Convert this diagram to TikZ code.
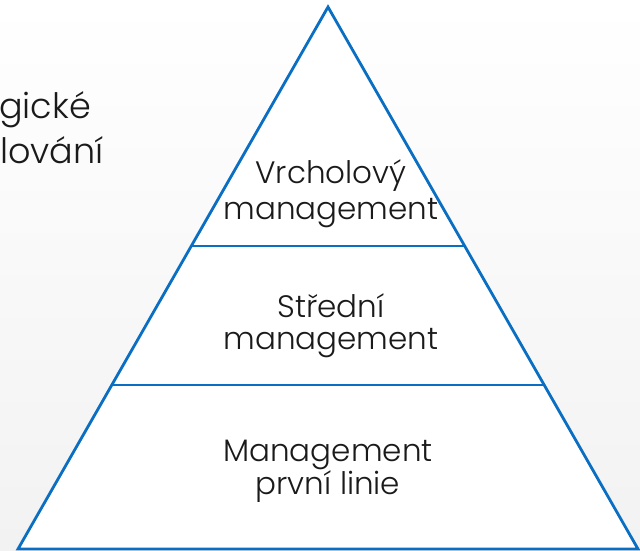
\documentclass[tikz,border=0pt]{standalone}
\usepackage{fontspec}
\setmainfont{Poppins Light}
\definecolor{pyrblue}{HTML}{0A6FC2}
\definecolor{txt}{HTML}{1A1A1A}
\definecolor{bgtop}{HTML}{FFFFFF}
\definecolor{bgbot}{HTML}{F2F2F2}
\tikzset{
  pyrline/.style={draw=pyrblue, line width=2.8pt, line join=miter},
  sepline/.style={draw=pyrblue, line width=2pt},
  label/.style={align=center, text=txt, inner sep=0pt, anchor=base},
  sidetext/.style={anchor=base west, text=txt, font=\fontsize{35}{42}\selectfont, inner sep=0pt}
}
\begin{document}
\begin{tikzpicture}[x=1pt,y=-1pt]
\useasboundingbox (0,0) rectangle (640,550);
\shade[top color=bgtop, bottom color=bgbot] (0,0) rectangle (640,550);
\coordinate (apex) at (328,7);
\coordinate (bl) at (18,549);
\coordinate (br) at (638,549);
\coordinate (l1) at (191.3,246);
\coordinate (r1) at (464.7,246);
\coordinate (l2) at (111.8,385);
\coordinate (r2) at (544.2,385);
\fill[white] (apex) -- (bl) -- (br) -- cycle;
\draw[sepline] (l1) -- (r1);
\draw[sepline] (l2) -- (r2);
\draw[pyrline] (apex) -- (bl) -- (br) -- cycle;
\node[label, font=\fontsize{31}{36}\selectfont] (top) at (331,219) {Vrcholový\\management};
\node[label, font=\fontsize{31}{32}\selectfont] (mid) at (331,349) {Střední\\management};
\node[label, font=\fontsize{31}{33}\selectfont] (bot) at (328,494) {Management\\první linie};
\node[sidetext] (s1) at (-1,118) {gické};
\node[sidetext] (s2) at (0,163) {lování};
\end{tikzpicture}
\end{document}
